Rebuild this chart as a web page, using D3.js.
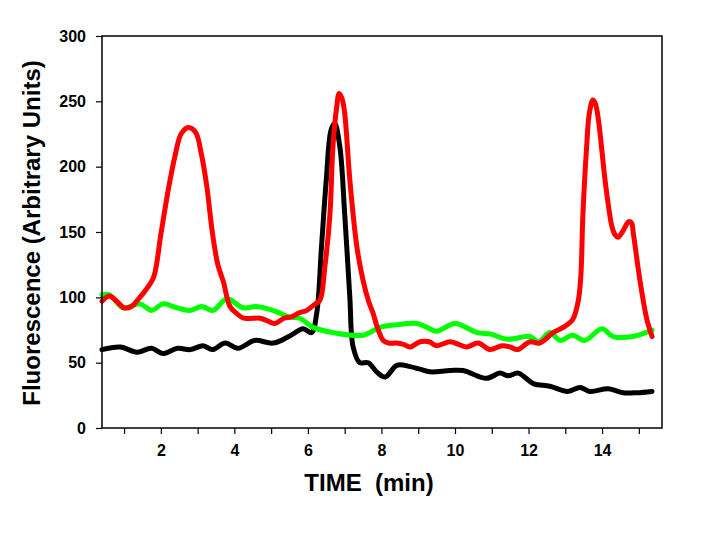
<!DOCTYPE html>
<html>
<head>
<meta charset="utf-8">
<script src="https://cdn.jsdelivr.net/npm/d3@7"></script>
<style>
  body { margin: 0; background: #fff; }
  svg { display: block; font-family: "Liberation Sans", Arial, sans-serif; }
</style>
</head>
<body>
<div id="chart"></div>
<script>
// data (time in min, fluorescence)
const redSeries = [
  [0.4, 97], [0.6, 101], [0.8, 97], [1.0, 92], [1.2, 93], [1.4, 99], [1.6, 106], [1.8, 115],
  [2.0, 148], [2.2, 182], [2.4, 210], [2.55, 225], [2.75, 230], [2.95, 226], [3.1, 210],
  [3.25, 185], [3.4, 150], [3.55, 125], [3.7, 112], [3.88, 93], [4.05, 88], [4.25, 84],
  [4.5, 84], [4.7, 84], [4.9, 82], [5.1, 80], [5.35, 84], [5.55, 85], [5.75, 88], [5.97, 90],
  [6.2, 95], [6.33, 98], [6.46, 123], [6.6, 164], [6.68, 215], [6.78, 245], [6.85, 256],
  [6.93, 252], [7.0, 241], [7.14, 190], [7.33, 139], [7.5, 113], [7.65, 97], [7.77, 88],
  [7.9, 76], [8.05, 67], [8.2, 65], [8.4, 65], [8.6, 64], [8.78, 62], [9.05, 66], [9.3, 66],
  [9.5, 63], [9.86, 66], [10.1, 64], [10.32, 62], [10.63, 65], [10.95, 60], [11.28, 63],
  [11.5, 62], [11.7, 60], [12.04, 66], [12.3, 65], [12.67, 73], [12.94, 77], [13.2, 83],
  [13.35, 97], [13.42, 115], [13.48, 164], [13.58, 215], [13.65, 240], [13.75, 251],
  [13.82, 248], [13.9, 236], [14.08, 190], [14.2, 165], [14.27, 154], [14.35, 148],
  [14.43, 146], [14.55, 150], [14.63, 154], [14.72, 158], [14.8, 157], [14.85, 149],
  [15.03, 113], [15.22, 83], [15.36, 70]
];
const blackSeries = [
  [0.4, 60], [0.9, 62], [1.35, 58], [1.75, 61], [2.05, 57], [2.45, 61], [2.8, 60], [3.15, 63],
  [3.4, 60], [3.75, 65], [4.1, 61], [4.55, 67], [5.05, 65], [5.48, 70], [5.87, 76], [6.1, 73],
  [6.24, 88], [6.37, 139], [6.5, 190], [6.63, 228], [6.73, 233], [6.87, 215], [7.0, 164],
  [7.14, 100], [7.23, 62], [7.41, 50], [7.64, 50], [7.87, 43], [8.1, 39], [8.42, 48],
  [8.78, 47], [9.05, 45], [9.32, 43], [9.86, 44], [10.22, 44], [10.86, 38], [11.22, 42],
  [11.45, 40], [11.72, 42], [12.13, 34], [12.58, 32], [13.07, 28], [13.4, 31], [13.67, 28],
  [14.17, 30], [14.57, 27], [14.95, 27], [15.36, 28]
];
const greenSeries = [
  [0.4, 102], [0.6, 102], [0.97, 92], [1.43, 95], [1.75, 90], [2.06, 95], [2.43, 92],
  [2.79, 90], [3.11, 93], [3.42, 90], [3.8, 99], [4.23, 92], [4.6, 93], [5.05, 90],
  [5.48, 85], [5.78, 84], [6.14, 77], [6.68, 73], [7.5, 71], [7.96, 77], [8.42, 79],
  [8.97, 80], [9.24, 77], [9.5, 74], [10.0, 80], [10.6, 73], [10.95, 72], [11.42, 68],
  [12.04, 70], [12.27, 66], [12.58, 73], [12.86, 67], [13.2, 71], [13.53, 67], [14.0, 76],
  [14.3, 70], [14.84, 70], [15.36, 75]
];
const xTicks = [1, 2, 3, 4, 5, 6, 7, 8, 9, 10, 11, 12, 13, 14, 15];
const xTickLabels = [2, 4, 6, 8, 10, 12, 14];
const yTicks = [0, 50, 100, 150, 200, 250, 300];

const width = 710, height = 540;
const margin = { top: 36, right: 48, bottom: 112, left: 102 };
const innerW = width - margin.left - margin.right;
const innerH = height - margin.top - margin.bottom;

const svg = d3.select("#chart").append("svg")
  .attr("width", width)
  .attr("height", height);

svg.append("rect").attr("width", width).attr("height", height).attr("fill", "#fff");

const g = svg.append("g").attr("transform", `translate(${margin.left},${margin.top})`);

const x = d3.scaleLinear().domain([0.4, 15.63]).range([0, innerW]);
const y = d3.scaleLinear().domain([0, 300]).range([innerH, 0]);

// axes
const xAxis = g.append("g")
  .attr("transform", `translate(0,${innerH})`)
  .call(d3.axisBottom(x).tickValues(xTicks).tickSize(6).tickPadding(11)
    .tickFormat(d => xTickLabels.includes(d) ? d : ""));
const yAxis = g.append("g")
  .call(d3.axisLeft(y).tickValues(yTicks).tickSize(6).tickPadding(10));

[xAxis, yAxis].forEach(a => {
  a.select(".domain").remove();
  a.selectAll(".tick line").attr("stroke", "#000").attr("stroke-width", 1.2);
  a.selectAll(".tick text")
    .attr("fill", "#000")
    .style("font-size", "16px")
    .style("font-weight", "bold")
    .style("font-family", "'Liberation Sans', Arial, sans-serif");
});

// lines
const line = d3.line()
  .x(d => x(d[0]))
  .y(d => y(d[1]))
  .curve(d3.curveCatmullRom.alpha(0.5));

const series = [
  { data: blackSeries, color: "#000000" },
  { data: greenSeries, color: "#00ff00" },
  { data: redSeries, color: "#ff0000" }
];

g.selectAll(".series")
  .data(series)
  .enter()
  .append("path")
  .attr("class", "series")
  .attr("d", d => line(d.data))
  .attr("fill", "none")
  .attr("stroke", d => d.color)
  .attr("stroke-width", 5)
  .attr("stroke-linejoin", "round")
  .attr("stroke-linecap", "round");

// frame
g.append("rect")
  .attr("width", innerW)
  .attr("height", innerH)
  .attr("fill", "none")
  .attr("stroke", "#000")
  .attr("stroke-width", 1.5);

// titles
svg.append("text")
  .attr("x", 369)
  .attr("y", 491)
  .attr("text-anchor", "middle")
  .style("font-size", "24px")
  .style("font-weight", "bold")
  .style("white-space", "pre")
  .attr("xml:space", "preserve")
  .text("TIME  (min)");

svg.append("text")
  .attr("transform", "translate(40,233) rotate(-90)")
  .attr("text-anchor", "middle")
  .style("font-size", "24px")
  .style("font-weight", "bold")
  .text("Fluorescence (Arbitrary Units)");
</script>
</body>
</html>
